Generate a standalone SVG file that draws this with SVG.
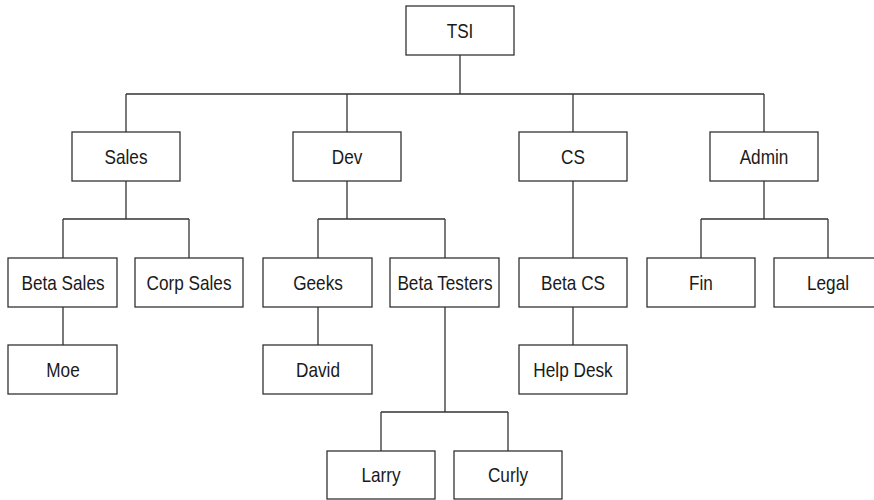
<svg xmlns="http://www.w3.org/2000/svg" width="874" height="500" viewBox="0 0 874 500">
  <style>
    .box { fill: #ffffff; stroke: #333333; stroke-width: 1.3; }
    .wire { fill: none; stroke: #333333; stroke-width: 1.3; }
    .lbl { font-family: "Liberation Sans", Arial, sans-serif; font-size: 20px; fill: #1a1a1a; text-anchor: middle; }
  </style>
  <rect width="874" height="500" fill="#ffffff"/>

  <!-- org chart connectors (elbow lines) -->
  <g id="connectors" class="wire">
    <path d="M460,55 V94 M126,94 H764 M126,94 V132 M347,94 V132 M573,94 V132 M764,94 V132"/>
    <path d="M126,181 V219 M63,219 H189 M63,219 V258 M189,219 V258 M63,307 V345"/>
    <path d="M347,181 V219 M318,219 H445 M318,219 V258 M445,219 V258 M318,307 V345"/>
    <path d="M445,307 V412 M381,412 H508 M381,412 V451 M508,412 V451"/>
    <path d="M573,181 V258 M573,307 V345"/>
    <path d="M764,181 V219 M701,219 H828 M701,219 V258 M828,219 V258"/>
  </g>

  <g id="tsi"><rect class="box" x="406" y="6" width="108" height="49"/><text class="lbl" transform="translate(460,38) scale(0.86,1)">TSI</text></g>

  <g id="sales"><rect class="box" x="72" y="132" width="108" height="49"/><text class="lbl" transform="translate(126,164) scale(0.86,1)">Sales</text></g>
  <g id="dev"><rect class="box" x="293" y="132" width="108" height="49"/><text class="lbl" transform="translate(347,164) scale(0.86,1)">Dev</text></g>
  <g id="cs"><rect class="box" x="519" y="132" width="108" height="49"/><text class="lbl" transform="translate(573,164) scale(0.86,1)">CS</text></g>
  <g id="admin"><rect class="box" x="710" y="132" width="108" height="49"/><text class="lbl" transform="translate(764,164) scale(0.86,1)">Admin</text></g>

  <g id="beta-sales"><rect class="box" x="8" y="258" width="109" height="49"/><text class="lbl" transform="translate(63,290) scale(0.86,1)">Beta Sales</text></g>
  <g id="corp-sales"><rect class="box" x="135" y="258" width="108" height="49"/><text class="lbl" transform="translate(189,290) scale(0.86,1)">Corp Sales</text></g>
  <g id="geeks"><rect class="box" x="263" y="258" width="109" height="49"/><text class="lbl" transform="translate(318,290) scale(0.86,1)">Geeks</text></g>
  <g id="beta-testers"><rect class="box" x="390" y="258" width="109" height="49"/><text class="lbl" transform="translate(445,290) scale(0.86,1)">Beta Testers</text></g>
  <g id="beta-cs"><rect class="box" x="519" y="258" width="108" height="49"/><text class="lbl" transform="translate(573,290) scale(0.86,1)">Beta CS</text></g>
  <g id="fin"><rect class="box" x="647" y="258" width="108" height="49"/><text class="lbl" transform="translate(701,290) scale(0.86,1)">Fin</text></g>
  <g id="legal"><rect class="box" x="774" y="258" width="108" height="49"/><text class="lbl" transform="translate(828,290) scale(0.86,1)">Legal</text></g>

  <g id="moe"><rect class="box" x="8" y="345" width="109" height="49"/><text class="lbl" transform="translate(63,377) scale(0.86,1)">Moe</text></g>
  <g id="david"><rect class="box" x="263" y="345" width="109" height="49"/><text class="lbl" transform="translate(318,377) scale(0.86,1)">David</text></g>
  <g id="help-desk"><rect class="box" x="519" y="345" width="108" height="49"/><text class="lbl" transform="translate(573,377) scale(0.86,1)">Help Desk</text></g>

  <g id="larry"><rect class="box" x="327" y="451" width="108" height="48"/><text class="lbl" transform="translate(381,482) scale(0.86,1)">Larry</text></g>
  <g id="curly"><rect class="box" x="454" y="451" width="108" height="48"/><text class="lbl" transform="translate(508,482) scale(0.86,1)">Curly</text></g>
</svg>
